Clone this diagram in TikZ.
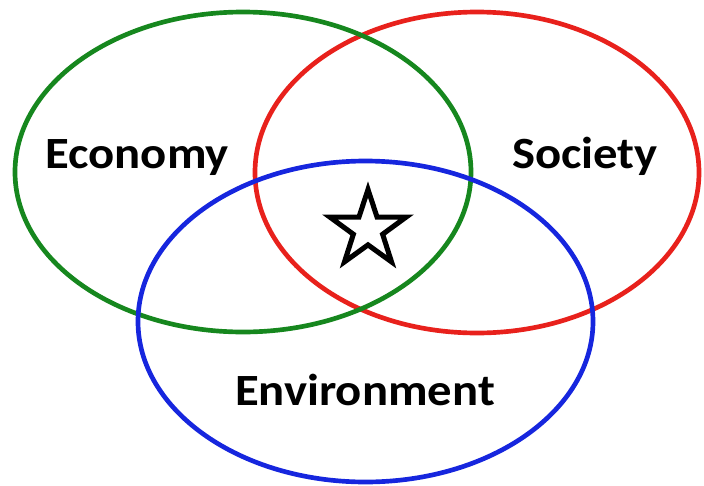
\documentclass[tikz,border=0pt]{standalone}
\usepackage{fontspec}
\setmainfont{Carlito}
\usetikzlibrary{shapes.geometric}
\definecolor{ecogreen}{RGB}{22,135,30}
\definecolor{socred}{RGB}{232,33,28}
\definecolor{envblue}{RGB}{22,38,222}
\tikzset{
    sphere/.style={ellipse,draw,line width=3.5pt,inner sep=0pt},
    label/.style={anchor=base,xscale=1.09,font=\fontsize{33.5}{33.5}\selectfont\bfseries},
    goal/.style={star,star points=5,star point ratio=2.6,draw,line width=3.8pt,
        minimum size=60pt,inner sep=0pt},
}

\begin{document}
\begin{tikzpicture}[x=0.75pt,y=-0.75pt]
    \useasboundingbox (0,0) rectangle (704,486);
    \node[sphere,draw=socred,minimum width=333pt,minimum height=240.75pt] (soc) at (477,172.5) {};
    \node[sphere,draw=ecogreen,minimum width=342pt,minimum height=240pt] (eco) at (243,172) {};
    \node[sphere,draw=envblue,minimum width=341.25pt,minimum height=240.75pt] (env) at (365.5,321.5) {};
    \node[label] (ecotxt) at (137,168) {Economy};
    \node[label] (soctxt) at (585,168) {Society};
    \node[label] (envtxt) at (365,405) {Environment};
    \node[goal] (mid) at (368,229.5) {};
\end{tikzpicture}
\end{document}
